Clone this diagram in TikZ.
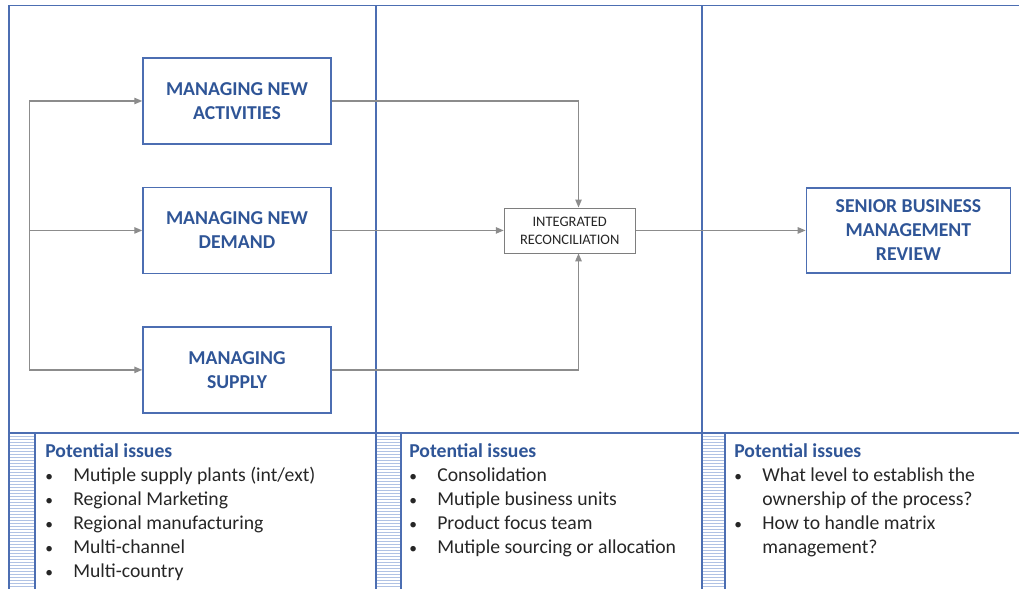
\documentclass[tikz,border=0pt]{standalone}
\usepackage{fontspec}
\setmainfont{Carlito}
\usetikzlibrary{arrows.meta, positioning, calc}

\definecolor{framecol}{RGB}{76,110,178}
\definecolor{headcol}{RGB}{47,85,151}
\definecolor{hatchcol}{RGB}{176,194,228}
\definecolor{linkcol}{RGB}{140,140,140}
\definecolor{bodycol}{RGB}{38,38,38}

\newcommand{\bul}{\makebox[0.7cm][l]{\fontsize{11}{11}\selectfont\textbullet}}

\tikzset{
  base/.style = {
    draw=framecol, line width=1pt, fill=white, align=center,
    text=headcol, font=\fontsize{14}{17}\selectfont\bfseries
  },
  task/.style = {
    base, minimum width=4.7cm, minimum height=2.15cm
  },
  review/.style = {
    base, minimum width=5.1cm, minimum height=2.125cm
  },
  merge/.style = {
    draw=linkcol!90!black, line width=0.6pt, fill=white, align=center,
    minimum width=3.275cm, minimum height=1.125cm,
    text=bodycol, font=\fontsize{10.3}{12.8}\selectfont
  },
  frame/.style = {
    draw=framecol, line width=1pt
  },
  hatch/.style = {
    draw=hatchcol, line width=0.5pt
  },
  link/.style = {
    draw=linkcol, line width=1pt
  },
  flow/.style = {
    link, -{Triangle[length=2mm, width=1.6mm]}
  },
  issues/.style = {
    anchor=north west, inner sep=0pt, align=left, text=bodycol,
    font=\fontsize{14}{17.1}\selectfont
  }
}

\begin{document}
\begin{tikzpicture}[x=0.025cm, y=-0.025cm]
  \useasboundingbox (0,0) rectangle (1019,589);

  % Columns and lower band
  \foreach \xa/\xb in {9/35, 376/401, 702/725} {
    \foreach \yy in {436,439,...,588}
      \draw[hatch] (\xa,\yy) -- (\xb,\yy);
    \draw[frame] (\xb,433) -- (\xb,589);
  }
  \draw[frame] (1019,5.5) -- (9,5.5) -- (9,589);
  \draw[frame] (376,5.5) -- (376,589);
  \draw[frame] (702,5.5) -- (702,589);
  \draw[frame] (9,433) -- (1019,433);

  % Process boxes
  \node[task] (act) at (237,101) {MANAGING NEW\\ACTIVITIES};
  \node[task, below=1.05cm of act] (dem) {MANAGING NEW\\DEMAND};
  \node[task, below=1.3cm of dem] (sup) {MANAGING\\SUPPLY};
  \node[merge, right=4.3cm of dem] (recon) {INTEGRATED\\RECONCILIATION};
  \node[review, right=4.25cm of recon] (senior) {SENIOR BUSINESS\\MANAGEMENT\\REVIEW};

  % Feed on the left
  \coordinate (trunktop) at ([xshift=-2.825cm]act.west);
  \coordinate (trunkbot) at ([xshift=-2.825cm]sup.west);
  \draw[link] (trunktop) -- (trunkbot);
  \draw[flow] (trunktop) -- (act);
  \draw[flow] (trunktop |- dem) -- (dem);
  \draw[flow] (trunkbot) -- (sup);

  % Into reconciliation and on to review
  \draw[flow] (act.east) -| ([xshift=0.22cm]recon.north);
  \draw[flow] (dem) -- (recon);
  \draw[flow] (sup.east) -| ([xshift=0.22cm]recon.south);
  \draw[flow] (recon) -- (senior);

  % Issues per column
  \node[issues] (issuesA) at (45,443) {%
    {\color{headcol}\bfseries Potential issues}\\
    \bul Mutiple supply plants (int/ext)\\
    \bul Regional Marketing\\
    \bul Regional manufacturing\\
    \bul Multi-channel\\
    \bul Multi-country};
  \node[issues] (issuesB) at (409,443) {%
    {\color{headcol}\bfseries Potential issues}\\
    \bul Consolidation\\
    \bul Mutiple business units\\
    \bul Product focus team\\
    \bul Mutiple sourcing or allocation};
  \node[issues] (issuesC) at (734,443) {%
    {\color{headcol}\bfseries Potential issues}\\
    \bul What level to establish the\\
    \hspace*{0.7cm}ownership of the process?\\
    \bul How to handle matrix\\
    \hspace*{0.7cm}management?};
\end{tikzpicture}
\end{document}
